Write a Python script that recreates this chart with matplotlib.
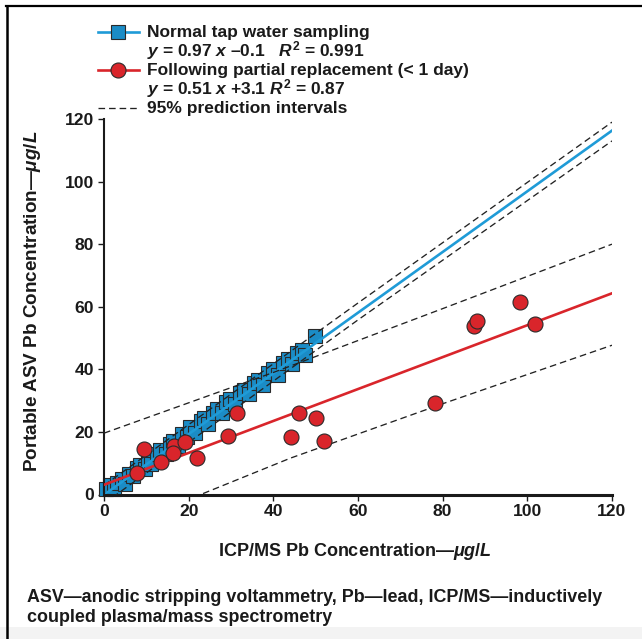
import matplotlib
matplotlib.use('Agg')
import matplotlib.pyplot as plt
from matplotlib.lines import Line2D
from matplotlib.patches import Rectangle

plt.rcParams['font.family'] = ['Liberation Sans', 'DejaVu Sans']
plt.rcParams['mathtext.fontset'] = 'custom'
plt.rcParams['mathtext.it'] = 'Liberation Sans:italic:bold'
plt.rcParams['mathtext.rm'] = 'Liberation Sans:bold'
plt.rcParams['mathtext.bf'] = 'Liberation Sans:bold'

# ---- data ----
tap_x = [0.5, 1.5, 2.3, 3.0, 4.2, 5.0, 5.8, 6.9, 7.8, 8.5, 9.6, 10.4, 11.2, 12.5,
         13.3, 14.6, 15.5, 16.3, 17.4, 18.5, 19.6, 20.4, 21.5, 22.8, 23.6, 24.5,
         25.7, 26.6, 27.8, 28.9, 29.8, 31.0, 32.2, 33.1, 34.3, 35.5, 36.4, 37.6,
         38.8, 39.9, 41.0, 42.2, 43.4, 44.5, 45.6, 46.8, 47.4, 49.8]
tap_y = [1.8, 3.0, 1.6, 3.8, 5.0, 3.5, 6.6, 5.8, 8.6, 9.4, 8.3, 11.3, 9.9, 13.1,
         14.2, 12.9, 16.2, 17.2, 15.6, 19.4, 18.4, 21.7, 19.8, 23.4, 24.6, 22.4,
         26.2, 27.3, 25.9, 29.5, 30.6, 28.8, 32.4, 33.5, 32.0, 35.6, 36.7, 35.0,
         38.8, 40.1, 38.3, 42.1, 43.3, 41.6, 45.3, 46.3, 44.6, 50.7]

rep_x = [7.7, 9.4, 13.4, 16.6, 16.4, 19.1, 22.0, 29.4, 31.3, 44.2, 46.1, 50.1,
         51.9, 78.2, 87.4, 88.0, 98.2, 101.8]
rep_y = [7.0, 14.5, 10.3, 15.5, 13.2, 16.8, 11.6, 18.7, 26.2, 18.5, 26.1, 24.6,
         17.0, 29.2, 54.0, 55.3, 61.4, 54.5]

fit_x = [0, 120]
tap_fit = [-0.1, 116.3]
rep_fit = [3.1, 64.3]

tap_pi_x = [0, 60, 120]
tap_pi_hi = [2.9, 61.2, 119.0]
tap_pi_lo = [-2.9, 55.8, 113.0]

rep_pi_hi_x = [0, 40, 80, 120]
rep_pi_hi = [19.6, 39.0, 59.4, 80.0]
rep_pi_lo_x = [23.4, 44, 80, 120]
rep_pi_lo = [0.3, 11.6, 29.0, 47.7]

x_ticks = [0, 20, 40, 60, 80, 100, 120]
y_ticks = [0, 20, 40, 60, 80, 100, 120]

# ---- styling ----
BLUE_FILL = '#1b8cc6'
BLUE_LINE = '#1f9bd7'
RED = '#d9252b'
EDGE = '#2a2a2a'
DASH = '#222222'

W, H = 642, 639
fig = plt.figure(figsize=(W / 100, H / 100), dpi=100)


def fx(px):
    return px / W


def fy(py):
    return 1 - py / H


# background band and frame
fig.add_artist(Rectangle((0, 0), 1, fy(627), transform=fig.transFigure,
                         facecolor='#f3f3f3', edgecolor='none', zorder=0))
fig.add_artist(Line2D([fx(6), 1], [fy(6), fy(6)], transform=fig.transFigure,
                      color='black', lw=1.6))
fig.add_artist(Line2D([fx(6.5), fx(6.5)], [fy(6), 0], transform=fig.transFigure,
                      color='black', lw=1.8))

ax = fig.add_axes([fx(104), fy(494.5), fx(612) - fx(104), fy(119) - fy(494.5)])
ax.set_xlim(0, 120)
ax.set_ylim(0, 120)
ax.patch.set_alpha(0)

dash_kw = dict(color=DASH, lw=0.95, dashes=(5, 3), zorder=3)

ax.plot(tap_x, tap_y, 's', ms=10.2, mfc=BLUE_FILL, mec=EDGE, mew=0.8,
        zorder=2, clip_on=False)
ax.plot(tap_pi_x, tap_pi_hi, **dash_kw)
ax.plot(tap_pi_x, tap_pi_lo, **dash_kw)
ax.plot(rep_pi_hi_x, rep_pi_hi, **dash_kw)
ax.plot(rep_pi_lo_x, rep_pi_lo, **dash_kw)
ax.plot(fit_x, tap_fit, color=BLUE_LINE, lw=1.9, zorder=2.5)
ax.plot(fit_x, rep_fit, color=RED, lw=1.9, zorder=4)
ax.plot(rep_x, rep_y, 'o', ms=10.8, mfc=RED, mec=EDGE, mew=0.8,
        zorder=5, clip_on=False)

for s in ['top', 'right']:
    ax.spines[s].set_visible(False)
ax.spines['left'].set_linewidth(1.5)
ax.spines['bottom'].set_linewidth(2.2)
ax.spines['left'].set_color('#1a1a1a')
ax.spines['bottom'].set_color('#1a1a1a')
ax.set_xticks(x_ticks)
ax.set_yticks(y_ticks)
ax.tick_params(direction='out', length=4, width=1, labelsize=12.6, pad=3,
               colors='#1a1a1a')
for lab in ax.get_xticklabels() + ax.get_yticklabels():
    lab.set_fontweight('bold')

TXT = '#1a1a1a'
fig.text(fx(355), fy(551), r'ICP/MS Pb Concentration—$μg/L$', ha='center',
         va='center', fontsize=13, fontweight='bold', color=TXT)
fig.text(fx(33), fy(301), r'Portable ASV Pb Concentration—$μg/L$', ha='center',
         va='center', rotation=90, fontsize=13.6, fontweight='bold', color=TXT)

fig.text(fx(27), fy(598), 'ASV—anodic stripping voltammetry, Pb—lead, ICP/MS—inductively',
         ha='left', va='center', fontsize=12.9, fontweight='bold', color=TXT)
fig.text(fx(27), fy(617), 'coupled plasma/mass spectrometry',
         ha='left', va='center', fontsize=12.9, fontweight='bold', color=TXT)

# legend (manual)
LX0, LX1, LM, TX = 98, 139, 118, 147
leg = [
    (32, 'Normal tap water sampling'),
    (51, r'$y$ = 0.97 $x$ –0.1   $R^2$ = 0.991'),
    (70, 'Following partial replacement (< 1 day)'),
    (89, r'$y$ = 0.51 $x$ +3.1 $R^2$ = 0.87'),
    (108, '95% prediction intervals'),
]
fig.add_artist(Line2D([fx(LX0), fx(LX1)], [fy(32), fy(32)], transform=fig.transFigure,
                      color=BLUE_LINE, lw=1.9))
fig.add_artist(Line2D([fx(LM)], [fy(32)], transform=fig.transFigure, marker='s',
                      ms=10.2, mfc=BLUE_FILL, mec=EDGE, mew=0.8, lw=0))
fig.add_artist(Line2D([fx(LX0), fx(LX1)], [fy(70), fy(70)], transform=fig.transFigure,
                      color=RED, lw=1.9))
fig.add_artist(Line2D([fx(LM)], [fy(70)], transform=fig.transFigure, marker='o',
                      ms=10.8, mfc=RED, mec=EDGE, mew=0.8, lw=0))
fig.add_artist(Line2D([fx(LX0), fx(LX1)], [fy(108), fy(108)], transform=fig.transFigure,
                      color=DASH, lw=0.95, dashes=(5, 3)))
for yy, s in leg:
    fig.text(fx(TX), fy(yy), s, ha='left', va='center', fontsize=12.5,
             fontweight='bold', color=TXT)

fig.savefig('out.png', dpi=100)
